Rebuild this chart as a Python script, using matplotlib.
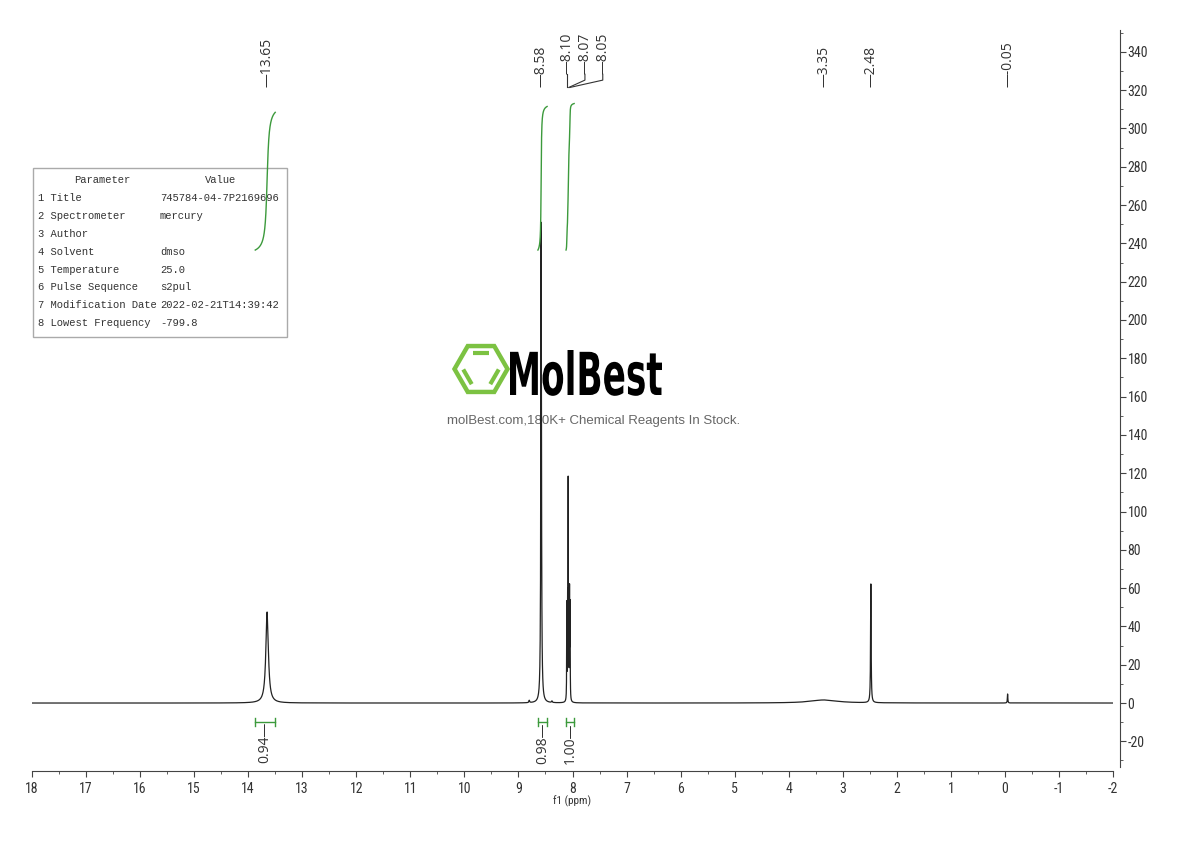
import matplotlib
matplotlib.use('Agg')
import matplotlib.pyplot as plt
import matplotlib.transforms as mtransforms
from matplotlib.patches import RegularPolygon, Rectangle, PathPatch
from matplotlib.textpath import TextPath
from matplotlib import font_manager
import numpy as np

matplotlib.rcParams['axes.unicode_minus'] = False


def pick(*names):
    for n in names:
        try:
            font_manager.findfont(font_manager.FontProperties(family=n), fallback_to_default=False)
            return n
        except ValueError:
            pass
    return 'DejaVu Sans'


narrow = pick('Liberation Sans Narrow', 'Roboto Condensed', 'Noto Sans Condensed',
              'Open Sans Condensed', 'Arial Narrow', 'DejaVu Sans')
mono = pick('Liberation Mono', 'DejaVu Sans Mono')
sans = pick('Open Sans', 'DejaVu Sans')
arial = pick('Liberation Sans', 'DejaVu Sans')

# peaks (ppm, height, half width)
peak_ppm = [13.65, 8.80, 8.58, 8.38, 8.105, 8.09, 8.08, 8.07, 8.055, 8.045, 3.35, 2.48, -0.05]
peak_h = [47.5, 1.2, 251, 0.8, 50, 52, 108, 52, 55, 48, 1.6, 62, 4.7]
peak_w = [0.028, 0.008, 0.007, 0.008, 0.003, 0.003, 0.002, 0.003, 0.003, 0.003, 0.30, 0.006, 0.005]

# peak labels at top
labels_single = [13.65, 8.58, 3.35, 2.48, -0.05]
labels_multi = [8.10, 8.07, 8.05]

# integrals: (start, end) ppm and value
int_ranges = [(13.87, 13.50), (8.64, 8.47), (8.12, 7.97)]
int_values = [0.94, 0.98, 1.00]

# parameter table
param_names = ['1 Title', '2 Spectrometer', '3 Author', '4 Solvent', '5 Temperature',
               '6 Pulse Sequence', '7 Modification Date', '8 Lowest Frequency']
param_values = ['745784-04-7P2169696', 'mercury', '', 'dmso', '25.0', 's2pul',
                '2022-02-21T14:39:42', '-799.8']

ppm = np.linspace(-2, 18, 40001)
spec = np.zeros_like(ppm)
for p, h, w in zip(peak_ppm, peak_h, peak_w):
    spec += h / (1 + ((ppm - p) / w) ** 2)

fig = plt.figure(figsize=(11.9, 8.41), dpi=100)

# background layer in pixel coords (table + watermark)
bg = fig.add_axes([0, 0, 1, 1], zorder=0)
bg.set_xlim(0, 1190)
bg.set_ylim(841, 0)
bg.axis('off')

bg.add_patch(Rectangle((33, 168), 254, 169, fill=False, edgecolor='#aaaaaa', lw=1))
tkw = dict(family=mono, fontsize=7.6, color='#333333', va='center')
bg.text(102, 180, 'Parameter', ha='center', **tkw)
bg.text(221, 180, 'Value', ha='center', **tkw)
for i, (n, v) in enumerate(zip(param_names, param_values)):
    yy = 198 + i * 17.9
    bg.text(38, yy, n, **tkw)
    bg.text(160, yy, v, **tkw)

# logo
cx, cy, r = 481, 369, 26.5
green = '#7cc242'
bg.add_patch(RegularPolygon((cx, cy), 6, radius=r, orientation=np.pi / 6,
                            fill=False, edgecolor=green, lw=3.2))
for a1, a2 in [(60, 120), (180, 240), (300, 360)]:
    v1 = np.array([cx + r * np.cos(np.radians(a1)), cy - r * np.sin(np.radians(a1))])
    v2 = np.array([cx + r * np.cos(np.radians(a2)), cy - r * np.sin(np.radians(a2))])
    c = np.array([cx, cy])
    m = c + 0.68 * ((v1 + v2) / 2 - c)
    d = (v2 - v1) * 0.32
    bg.plot([m[0] - d[0], m[0] + d[0]], [m[1] - d[1], m[1] + d[1]], color=green, lw=3, solid_capstyle='butt')

tp = TextPath((0, 0), 'MolBest', size=100,
              prop=font_manager.FontProperties(family='DejaVu Sans', weight='bold'))
ext = tp.get_extents()
sx = 152 / ext.width
sy = 45 / ext.y1
tr = mtransforms.Affine2D().translate(-ext.x0, 0).scale(sx, -sy).translate(510, 395) + bg.transData
bg.add_patch(PathPatch(tp, transform=tr, facecolor='black', edgecolor='none'))
bg.text(594, 421, 'molBest.com,180K+ Chemical Reagents In Stock.', family=arial, fontsize=9.5,
        color='#666666', ha='center', va='center')

# main spectrum axes
ax = fig.add_axes([32 / 1190, 1 - 767 / 841, (1113 - 32) / 1190, (767 - 30) / 841], zorder=1)
ax.patch.set_alpha(0)
ax.plot(ppm, spec, color='#222222', lw=0.9)
ax.set_xlim(18, -2)
ax.set_ylim(-33.4, 351.4)

for side in ['left', 'top']:
    ax.spines[side].set_visible(False)
ax.spines['right'].set_position(('outward', 5))
ax.spines['bottom'].set_position(('outward', 3))
for side in ['right', 'bottom']:
    ax.spines[side].set_color('#444444')
ax.yaxis.tick_right()
ax.set_xticks(np.arange(18, -3, -1))
ax.set_xticks(np.arange(17.5, -2, -0.5), minor=True)
ax.set_yticks(np.arange(-20, 341, 20))
ax.set_yticks(np.arange(-30, 351, 10), minor=True)
ax.tick_params(axis='both', which='major', length=4, color='#444444', direction='out')
ax.tick_params(axis='both', which='minor', length=2.5, color='#444444', direction='out')
ax.tick_params(axis='x', pad=3.5)
ax.tick_params(axis='y', pad=1.5)
for lab in ax.get_xticklabels() + ax.get_yticklabels():
    lab.set_family(narrow)
    lab.set_fontstretch('condensed')
    lab.set_fontsize(10)
    lab.set_color('#333333')
ax.set_xlabel('f1 (ppm)', family=narrow, fontstretch='condensed', fontsize=8, labelpad=0, color='#333333')

# peak labels
trans = mtransforms.blended_transform_factory(ax.transData, ax.transAxes)
for p in labels_single:
    ax.text(p, 0.922, '—%.2f' % p, transform=trans, rotation=90, ha='center', va='bottom',
            family=sans, fontsize=10, color='#333333')
for i, p in enumerate(labels_multi):
    lx = labels_multi[0] - 0.33 * i
    ax.plot([p, lx, lx], [0.922, 0.932, 0.94], transform=trans, color='#333333', lw=0.8)
    ax.text(lx, 0.94, '—%.2f' % p, transform=trans, rotation=90, ha='center', va='bottom',
            family=sans, fontsize=10, color='#333333')

# integrals
igreen = '#3c9a3c'
for (hi, lo), val in zip(int_ranges, int_values):
    m = (ppm <= hi) & (ppm >= lo)
    xs = ppm[m][::-1]
    cum = np.cumsum(spec[m][::-1])
    ys = 236.5 + 76.5 * val * cum / cum[-1]
    ax.plot(xs, ys, color=igreen, lw=1)
    ax.plot([hi, lo], [-10, -10], color=igreen, lw=1)
    ax.plot([hi, hi], [-8, -12], color=igreen, lw=1)
    ax.plot([lo, lo], [-8, -12], color=igreen, lw=1)
    ax.text((hi + lo) / 2, -10, '%.2f—' % val, rotation=90, ha='center', va='top',
            family=sans, fontsize=10, color='#333333')

fig.savefig('out.png', dpi=100)
